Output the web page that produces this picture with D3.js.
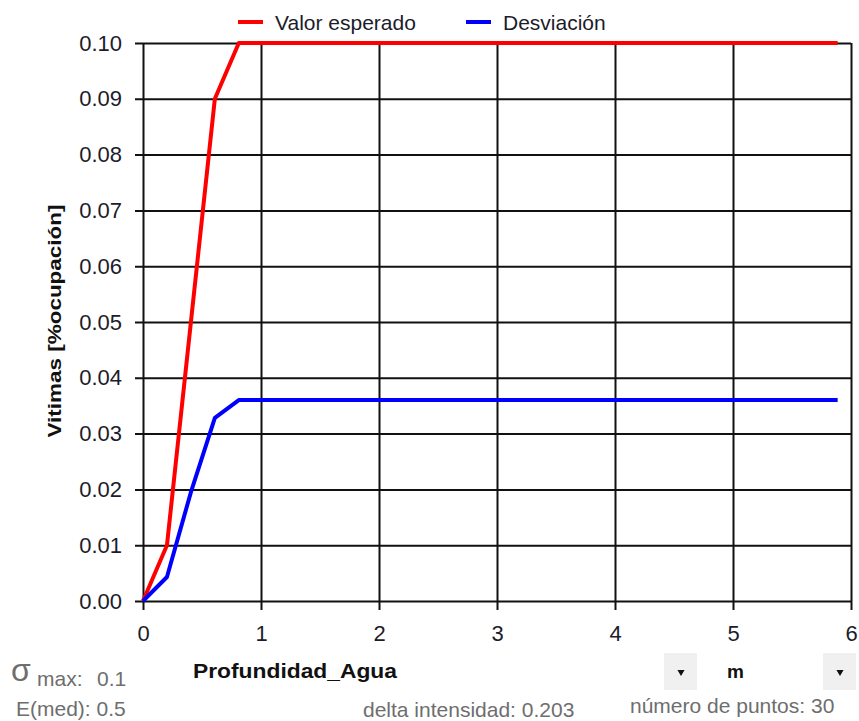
<!DOCTYPE html>
<html>
<head>
<meta charset="utf-8">
<script src="https://cdn.jsdelivr.net/npm/d3@7"></script>
<style>
  body { margin: 0; background: #fff; }
  text { font-family: "Liberation Sans", Arial, sans-serif; }
</style>
</head>
<body>
<script>
// datos
const profundidad = [0, 0.203, 0.406, 0.609, 0.812, 1.015, 1.218, 1.421, 1.624, 1.827,
  2.03, 2.233, 2.436, 2.639, 2.842, 3.045, 3.248, 3.451, 3.654, 3.857,
  4.06, 4.263, 4.466, 4.669, 4.872, 5.075, 5.278, 5.481, 5.684, 5.887];
const valorEsperado = [0, 0.01, 0.05, 0.09, 0.1, 0.1, 0.1, 0.1, 0.1, 0.1,
  0.1, 0.1, 0.1, 0.1, 0.1, 0.1, 0.1, 0.1, 0.1, 0.1,
  0.1, 0.1, 0.1, 0.1, 0.1, 0.1, 0.1, 0.1, 0.1, 0.1];
const desviacion = [0, 0.0043, 0.0195, 0.0328, 0.036, 0.036, 0.036, 0.036, 0.036, 0.036,
  0.036, 0.036, 0.036, 0.036, 0.036, 0.036, 0.036, 0.036, 0.036, 0.036,
  0.036, 0.036, 0.036, 0.036, 0.036, 0.036, 0.036, 0.036, 0.036, 0.036];
const xTicks = [0, 1, 2, 3, 4, 5, 6];
const yTicks = [0, 0.01, 0.02, 0.03, 0.04, 0.05, 0.06, 0.07, 0.08, 0.09, 0.1];
const series = ["Valor esperado", "Desviación"];
const colores = ["#ff0000", "#0000ff"];

const svg = d3.select("body").append("svg")
  .attr("width", 859)
  .attr("height", 721);

const x = d3.scaleLinear().domain([0, 6]).range([143, 851]);
const y = d3.scaleLinear().domain([0, 0.1]).range([601, 43]);

// eje y con rejilla
const gy = svg.append("g")
  .attr("transform", "translate(135,0)")
  .call(d3.axisLeft(y).tickValues(yTicks).tickFormat(d3.format(".2f"))
    .tickSize(-716).tickPadding(13));
gy.select(".domain").remove();
gy.selectAll("line").attr("stroke", "#111").attr("stroke-width", 2);
gy.selectAll("text").attr("font-size", 22).attr("fill", "#1c1c2a")
  .style("font-family", "Liberation Sans, Arial, sans-serif");

// eje x con rejilla
const gx = svg.append("g")
  .attr("transform", "translate(0,610)")
  .call(d3.axisBottom(x).tickValues(xTicks).tickFormat(d3.format("d"))
    .tickSize(-567).tickPadding(15));
gx.select(".domain").remove();
gx.selectAll("line").attr("stroke", "#111").attr("stroke-width", 2);
gx.selectAll("text").attr("font-size", 22).attr("fill", "#1c1c2a")
  .style("font-family", "Liberation Sans, Arial, sans-serif");

// curvas
const linea = d3.line()
  .x((d, i) => x(profundidad[i]))
  .y(d => y(d));

[valorEsperado, desviacion].forEach((vals, k) => {
  svg.append("path")
    .datum(vals)
    .attr("d", linea)
    .attr("fill", "none")
    .attr("stroke", colores[k])
    .attr("stroke-width", 4)
    .attr("stroke-linejoin", "round");
});

// leyenda
const legX = [238, 466];
series.forEach((s, k) => {
  svg.append("line")
    .attr("x1", legX[k]).attr("x2", legX[k] + 25)
    .attr("y1", 22).attr("y2", 22)
    .attr("stroke", colores[k]).attr("stroke-width", 4);
  svg.append("text")
    .attr("x", legX[k] + 37).attr("y", 30)
    .attr("font-size", 21).attr("fill", "#1c1c2a")
    .text(s);
});

// titulo eje y
svg.append("text")
  .attr("transform", "translate(61,321) rotate(-90)")
  .attr("text-anchor", "middle")
  .attr("font-size", 18).attr("font-weight", "bold").attr("fill", "#111")
  .attr("textLength", 233).attr("lengthAdjust", "spacingAndGlyphs")
  .text("Vitimas [%ocupación]");

// titulo eje x
svg.append("text")
  .attr("x", 193).attr("y", 678)
  .attr("font-size", 21).attr("font-weight", "bold").attr("fill", "#111")
  .attr("textLength", 204).attr("lengthAdjust", "spacingAndGlyphs")
  .text("Profundidad_Agua");

// controles de abajo
const gris = "#6e6e6e";
svg.append("text")
  .attr("x", 11).attr("y", 681)
  .attr("font-size", 32).attr("fill", gris)
  .text("σ");
svg.append("text")
  .attr("x", 37).attr("y", 686)
  .attr("font-size", 21).attr("fill", gris)
  .text("max:");
svg.append("text")
  .attr("x", 97).attr("y", 686)
  .attr("font-size", 21).attr("fill", gris)
  .text("0.1");
svg.append("text")
  .attr("x", 16).attr("y", 716)
  .attr("font-size", 21).attr("fill", gris)
  .text("E(med): 0.5");
svg.append("text")
  .attr("x", 363).attr("y", 717)
  .attr("font-size", 21).attr("fill", gris)
  .text("delta intensidad: 0.203");
svg.append("text")
  .attr("x", 630).attr("y", 713)
  .attr("font-size", 21).attr("fill", gris)
  .text("número de puntos: 30");

const cajas = [664, 823];
cajas.forEach(cx => {
  svg.append("rect")
    .attr("x", cx).attr("y", 653)
    .attr("width", 33).attr("height", 37)
    .attr("fill", "#f0f0f0");
  svg.append("path")
    .attr("d", d3.symbol().type(d3.symbolTriangle).size(22)())
    .attr("transform", `translate(${cx + 17},672) rotate(180)`)
    .attr("fill", "#111");
});
svg.append("text")
  .attr("x", 727).attr("y", 678)
  .attr("font-size", 19).attr("font-weight", "bold").attr("fill", "#111")
  .text("m");
</script>
</body>
</html>
